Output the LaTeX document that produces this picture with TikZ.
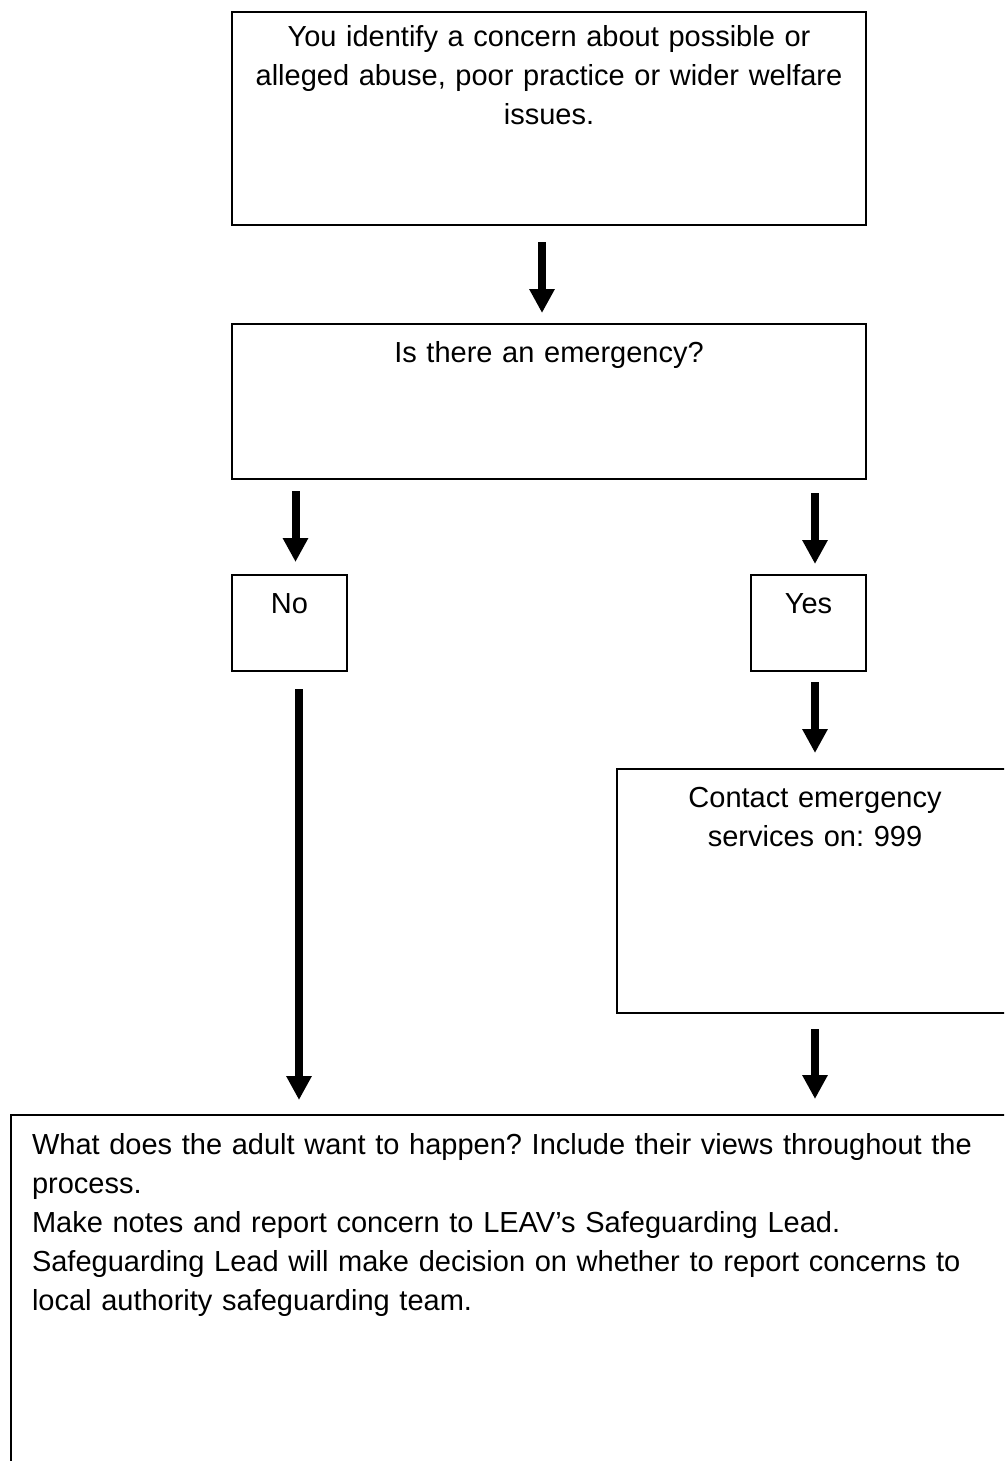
\documentclass[tikz,border=0pt]{standalone}
\usepackage{fontspec}
\setmainfont{Liberation Sans}
\usetikzlibrary{positioning,calc,arrows.meta}
\frenchspacing

\begin{document}
\begin{tikzpicture}[
		x=1pt,y=1pt,
		mybox/.style={draw,line width=1.3pt,rectangle,inner xsep=0pt,inner ysep=0pt,outer sep=0pt,align=center,
			font=\fontsize{29pt}{39pt}\selectfont,text height=38pt},
		myarrow/.style={line width=8pt,-{Triangle[width=24pt,length=24pt]}}
		]
		\useasboundingbox (0,0) rectangle (1004,-1461);
		\clip (0,0) rectangle (1004,-1461);
		\node[mybox,anchor=north west,text width=634pt,text height=35pt,text depth=178pt] (concern) at (232,-12)
		{You identify a concern about possible or\\alleged abuse, poor practice or wider welfare\\issues.};
		\node[mybox,below=99pt of concern,text width=634pt,text depth=117pt] (emergency) {Is there an emergency?};
		\node[mybox,below right=96pt and 0pt of emergency.south west,text width=115pt,text depth=58pt] (no) {No};
		\node[mybox,below left=96pt and 0pt of emergency.south east,text width=115pt,text depth=58pt] (yes) {Yes};
		\node[mybox,below=98pt of yes,xshift=6.5pt,text width=396pt,text depth=206pt] (contact)
		{Contact emergency\\services on: 999};
		\node[mybox,anchor=north west,align=left,inner xsep=21pt,text width=977pt,text height=39pt,text depth=326pt] (action) at (11,-1115)
		{What does the adult want to happen? Include their views throughout the\\
			process.\\
			Make notes and report concern to LEAV’s Safeguarding Lead.\\
			Safeguarding Lead will make decision on whether to report concerns to\\
			local authority safeguarding team.};
		\path[myarrow]
		([xshift=-7pt]concern.south) edge[shorten <=17pt,shorten >=11pt] ([xshift=-7pt]emergency.north)
		($(no.north |- emergency.south)+(6pt,0)$) edge[shorten <=12pt,shorten >=13pt] ([xshift=6pt]no.north)
		($(yes.north |- emergency.south)+(6.5pt,0)$) edge[shorten <=14pt,shorten >=11pt] ([xshift=6.5pt]yes.north)
		([xshift=6.5pt]yes.south) edge[shorten <=11pt,shorten >=16pt] (contact.north)
		([xshift=9.5pt]no.south) edge[shorten <=18pt,shorten >=15pt] ($(no.south |- action.north)+(9.5pt,0)$)
		(contact.south) edge[shorten <=16pt,shorten >=16pt] (contact.south |- action.north);
	\end{tikzpicture}
\end{document}
